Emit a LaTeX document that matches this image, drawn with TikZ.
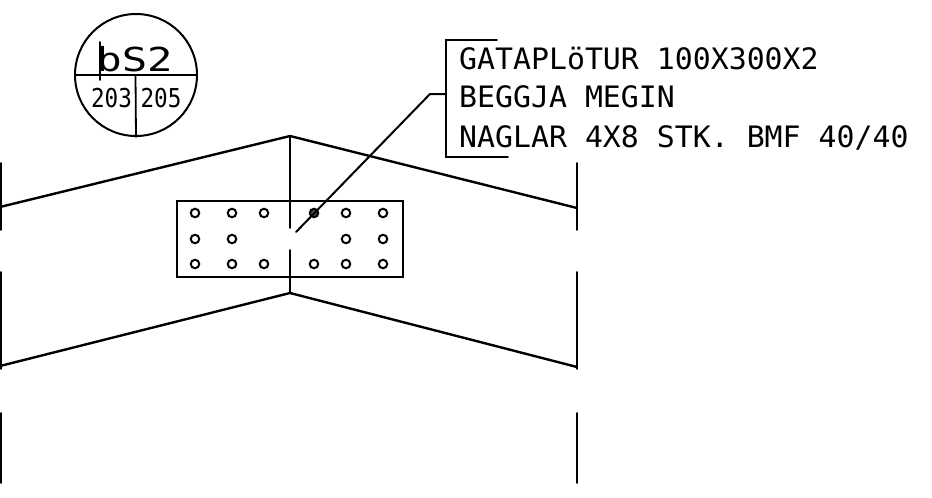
\documentclass[tikz,border=0pt]{standalone}
\usepackage{fontspec}
\setmainfont{Liberation Sans}
\newfontfamily\cadfont{DejaVu Sans Mono}
\tikzset{
  x=1pt,y=-1pt,
  heavy/.style={line width=2.4pt,line cap=round,line join=miter,black},
  thin line/.style={line width=1.8pt,line cap=round,black},
  bolt/.style={circle,draw=black,line width=2pt,inner sep=0pt,minimum size=8.5pt,fill=white},
  cadtext/.style={inner sep=0pt,anchor=base west,xscale=1.012,font=\cadfont\fontsize{29.5}{30}\selectfont},
  tag/.style={inner sep=0pt,anchor=base,font=\cadfont\fontsize{26}{26}\selectfont},
}
\begin{document}
\begin{tikzpicture}
\useasboundingbox (0,0) rectangle (932,498);
% section marker
\node[circle,draw=black,line width=2pt,minimum size=122pt,inner sep=0pt] (mark) at (136,75) {};
\draw[line width=2.6pt] (mark.west) -- (mark.east);
\coordinate (markc) at (135.5,75);
\draw[thin line] (markc) -- (mark.south);
\node[inner sep=0pt,anchor=base,font=\cadfont\fontsize{33}{33}\selectfont,xscale=1.28] (title) at (134.5,71) {bS2};
\coordinate (st) at (100,42); \coordinate (sb) at (100,80);
\draw[thin line] (st) -- (sb);
\node[tag,xscale=.87] (l1) at (111.5,107) {203};
\node[tag,xscale=.87] (l2) at (161,107) {205};
% upper profile
\coordinate (ua) at (0,207); \coordinate (ub) at (290,136); \coordinate (uc) at (577,208);
\draw[heavy] (ua) -- (ub) -- (uc);
\coordinate (la) at (0,366); \coordinate (lb) at (290,293); \coordinate (lc) at (577,367);
\draw[heavy] (la) -- (lb) -- (lc);
% centre line
\coordinate (c1) at (290,228); \coordinate (c2) at (290,250);
\draw[thin line] (ub) -- (c1);
\draw[thin line] (c2) -- (lb);
% side break lines
\foreach \n/\x in {a/1,b/577}{
  \coordinate (\n1) at (\x,163); \coordinate (\n2) at (\x,230);
  \coordinate (\n3) at (\x,272); \coordinate (\n4) at (\x,369);
  \coordinate (\n5) at (\x,413); \coordinate (\n6) at (\x,483);
  \draw[thin line] (\n1) -- (\n2);
  \draw[thin line] (\n3) -- (\n4);
  \draw[thin line] (\n5) -- (\n6);
}
% plate
\node[draw=black,line width=2.4pt,minimum width=226pt,minimum height=76pt,inner sep=0pt,anchor=north west] (plate) at (176,200) {};
% bolts
\foreach \x/\y/\nm in {195/213/p1,232/213/p2,264/213/p3,346/213/p5,383/213/p6,
  195/239/p7,232/239/p8,346/239/p9,383/239/p10,
  195/264/p11,232/264/p12,264/264/p13,314/264/p14,346/264/p15,383/264/p16}{
  \node[bolt] (\nm) at (\x,\y) {};
}
\node[bolt,fill=black!70] (p4) at (314,213) {};
% leader and bracket
\coordinate (le) at (296,232);
\coordinate (kn) at (430,94);
\coordinate (bm) at (446,94);
\coordinate (bt) at (446,40); \coordinate (btr) at (497,40);
\coordinate (bb) at (446,157); \coordinate (bbr) at (508,157);
\draw[thin line,line width=2pt] (le) -- (kn) -- (bm);
\draw[thin line] (btr) -- (bt) -- (bb) -- (bbr);
% text
\node[cadtext] (t1) at (459,69) {GATAPLöTUR 100X300X2};
\node[cadtext] (t2) at (459,107) {BEGGJA MEGIN};
\node[cadtext] (t3) at (459,147) {NAGLAR 4X8 STK. BMF 40/40};
\end{tikzpicture}
\end{document}
